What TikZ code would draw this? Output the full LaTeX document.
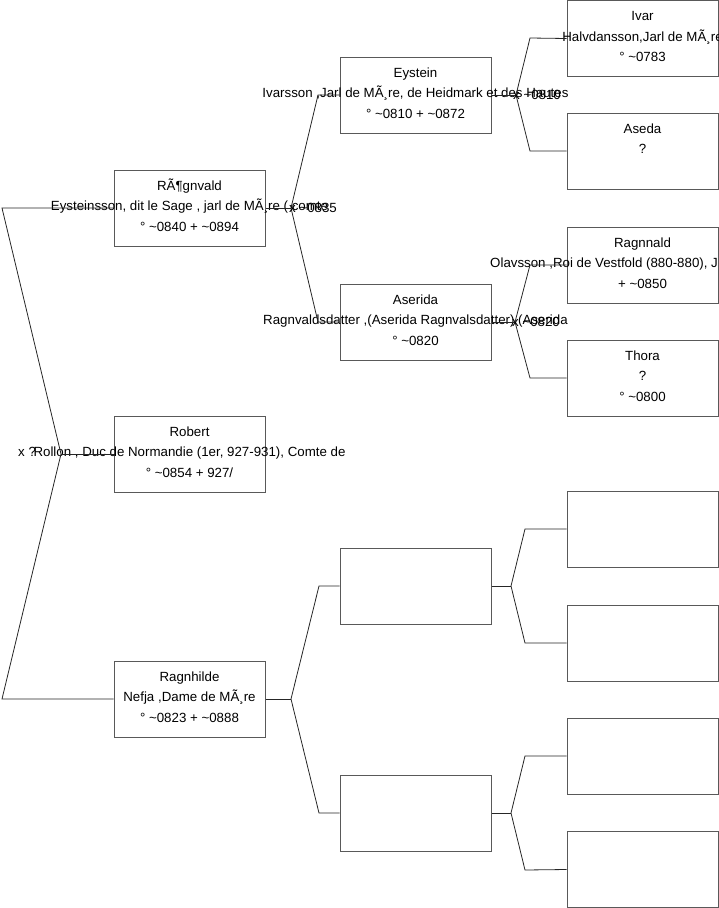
\documentclass[tikz,border=0pt]{standalone}
\usepackage{fontspec}
\setmainfont{Liberation Sans}
\begin{document}
\begin{tikzpicture}[x=1pt,y=-1pt,
  card/.style={draw=black!65,line width=1pt,minimum width=151pt,minimum height=76pt,inner sep=0pt,fill=none},
  txt/.style={inner sep=0pt,anchor=base,font=\fontsize{13.3}{15}\selectfont},
  mlabel/.style={inner sep=0pt,anchor=base west,font=\fontsize{13.3}{15}\selectfont},
  link/.style={draw=black!85,line width=0.8pt}]
\useasboundingbox (0,0) rectangle (719,908);
\newcommand\famcard[6]{%
  \node[card] (#1) at (#2+75.5,#3+38) {};
  \node[txt] (#1-a) at (#2+75.5,#3+20) {#4};
  \node[txt] (#1-b) at (#2+75.5,#3+40.5) {#5};
  \node[txt] (#1-c) at (#2+75.5,#3+61) {#6};
}
% generation 1 (left column)
\famcard{rog}{114}{170}{RÃ¶gnvald}{Eysteinsson, dit le Sage , jarl de MÃ¸re ( comte}{° \textasciitilde0840 + \textasciitilde0894}
\famcard{rob}{114}{416}{Robert}{Rollon , Duc de Normandie (1er, 927-931), Comte de}{° \textasciitilde0854 + 927/}
\famcard{ragh}{114}{661}{Ragnhilde}{Nefja ,Dame de MÃ¸re}{° \textasciitilde0823 + \textasciitilde0888}
% generation 2
\famcard{eys}{340}{57}{Eystein}{Ivarsson ,Jarl de MÃ¸re, de Heidmark et des Hautes}{° \textasciitilde0810 + \textasciitilde0872}
\famcard{ase}{340}{284}{Aserida}{Ragnvaldsdatter ,(Aserida Ragnvalsdatter) (Aserida}{° \textasciitilde0820}
\node[card] (e1) at (415.5,586) {};
\node[card] (e2) at (415.5,813) {};
% generation 3
\famcard{ivar}{567}{0.5}{Ivar}{Halvdansson,Jarl de MÃ¸re}{° \textasciitilde0783}
\famcard{aseda}{567}{113}{Aseda}{?}{}
\node[card] (ragn) at (642.5,265) {};
\node[txt] (ragn-a) at (642.5,247) {Ragnnald};
\node[mlabel] (ragn-b) at (490,267.5) {Olavsson ,Roi de Vestfold (880-880), J};
\node[txt] (ragn-c) at (642.5,288) {+ \textasciitilde0850};
\famcard{thora}{567}{340}{Thora}{?}{° \textasciitilde0800}
\node[card] (r5) at (642.5,529) {};
\node[card] (r6) at (642.5,643) {};
\node[card] (r7) at (642.5,756) {};
\node[card] (r8) at (642.5,869.5) {};
% connectors
\coordinate (L1) at (2,208);
\coordinate (LF) at (61,454);
\coordinate (L2) at (2,699);
\draw[link] (rog.west) -- (L1) -- (LF) -- (L2) -- (ragh.west);
\draw[link] (LF) -- (rob.west);
\coordinate (F1) at (291,208);
\coordinate (F1a) at (318,95);
\coordinate (F1b) at (318,322);
\draw[link] (rog.east) -- (F1);
\draw[link] (F1) -- (F1a) -- (eys.west);
\draw[link] (F1) -- (F1b) -- (ase.west);
\coordinate (F2) at (291,699);
\coordinate (F2a) at (319,586);
\coordinate (F2b) at (319,813);
\draw[link] (ragh.east) -- (F2);
\draw[link] (F2) -- (F2a) -- (e1.west);
\draw[link] (F2) -- (F2b) -- (e2.west);
\coordinate (F3) at (516,95);
\coordinate (F3a) at (530,38);
\coordinate (F3b) at (530,151);
\draw[link] (eys.east) -- (F3);
\draw[link] (F3) -- (F3a) -- (ivar.west);
\draw[link] (F3) -- (F3b) -- (aseda.west);
\coordinate (F4) at (515,322);
\coordinate (F4a) at (530,265);
\coordinate (F4b) at (530,378);
\draw[link] (ase.east) -- (F4);
\draw[link] (F4) -- (F4a) -- (ragn.west);
\draw[link] (F4) -- (F4b) -- (thora.west);
\coordinate (F5) at (511,586);
\coordinate (F5a) at (525,529);
\coordinate (F5b) at (525,643);
\draw[link] (e1.east) -- (F5);
\draw[link] (F5) -- (F5a) -- (r5.west);
\draw[link] (F5) -- (F5b) -- (r6.west);
\coordinate (F6) at (511,813);
\coordinate (F6a) at (525,756);
\coordinate (F6b) at (525,870);
\draw[link] (e2.east) -- (F6);
\draw[link] (F6) -- (F6a) -- (r7.west);
\draw[link] (F6) -- (F6b) -- (r8.west);
% marriage labels
\node[mlabel] (m1) at (289,212.5) {x \textasciitilde0835};
\node[mlabel] (m2) at (513,99.5) {x \textasciitilde0810};
\node[mlabel] (m3) at (512,326.5) {x \textasciitilde0820};
\node[mlabel] (m4) at (18,456.5) {x ?};
\end{tikzpicture}
\end{document}
